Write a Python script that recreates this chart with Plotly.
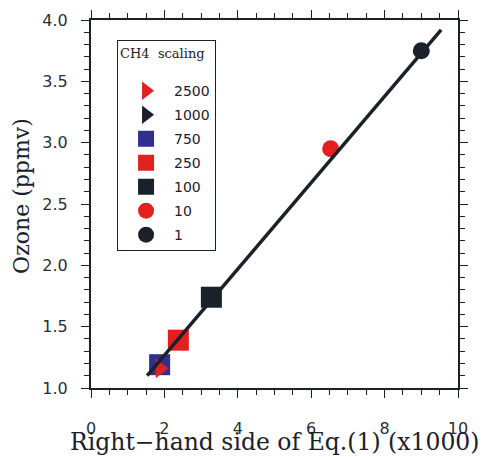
import plotly.graph_objects as go

# ---- data ----
labels = ["2500", "1000", "750", "250", "100", "10", "1"]
x_vals = [1.88, 1.84, 1.87, 2.38, 3.28, 6.53, 9.00]
y_vals = [1.16, 1.19, 1.19, 1.39, 1.74, 2.95, 3.75]
symbols = ["triangle-right", "triangle-right", "square", "square", "square", "circle", "circle"]
colors = ["#e0211d", "#1b2128", "#2e3190", "#e0211d", "#1b2128", "#e0211d", "#1b2128"]
sizes = [17, 17, 21, 21, 21, 17, 17]
draw_order = [6, 5, 4, 3, 1, 2, 0]

fit_x = [1.53, 9.54]
fit_y = [1.10, 3.92]

x_ticks = [0, 2, 4, 6, 8, 10]
y_ticks = [1.0, 1.5, 2.0, 2.5, 3.0, 3.5, 4.0]

x_title = "Right\u2212hand side of Eq.(1) (x1000)"
y_title = "Ozone (ppmv)"
legend_title = "CH4  scaling"

fig = go.Figure()
for i in draw_order:
    fig.add_trace(go.Scatter(
        x=[x_vals[i]], y=[y_vals[i]], mode="markers", name=labels[i],
        legendgroup=labels[i], legendrank=i + 1,
        marker=dict(symbol=symbols[i], color=colors[i], size=sizes[i], line=dict(width=0)),
    ))
fig.add_trace(go.Scatter(x=fit_x, y=fit_y, mode="lines", showlegend=False,
                         line=dict(color="#1b2128", width=3.5)))

axis_common = dict(
    showline=True, linecolor="#1b2128", linewidth=2, mirror="allticks",
    ticks="outside", ticklen=8, tickwidth=1.3, tickcolor="#1b2128",
    showgrid=False, zeroline=False, automargin=False,
    tickfont=dict(family="DejaVu Sans", size=16, color="#2a2f35"),
)
fig.update_xaxes(range=[0, 10], tickvals=x_ticks, ticktext=[str(v) for v in x_ticks],
                 ticklabelstandoff=17,
                 minor=dict(dtick=0.5, ticklen=5, tickcolor="#1b2128", ticks="outside", showgrid=False),
                 **axis_common)
fig.update_yaxes(range=[1.0, 4.0], tickvals=y_ticks, ticktext=[f"{v:.1f}" for v in y_ticks],
                 ticklabelstandoff=10,
                 minor=dict(dtick=0.1, ticklen=5, tickcolor="#1b2128", ticks="outside", showgrid=False),
                 **axis_common)

fig.add_annotation(text=x_title, xref="paper", yref="paper", x=0.5, y=0,
                   xanchor="center", yanchor="middle", yshift=-54, showarrow=False,
                   font=dict(family="DejaVu Serif", size=23.5, color="#1b2128"))
fig.add_annotation(text=y_title, xref="paper", yref="paper", x=0, y=0.522, textangle=-90,
                   xanchor="center", yanchor="middle", xshift=-69, showarrow=False,
                   font=dict(family="DejaVu Serif", size=22, color="#1b2128"))

fig.update_layout(
    width=482, height=449,
    margin=dict(l=83, r=32, t=12, b=69),
    plot_bgcolor="white", paper_bgcolor="white",
    legend=dict(
        x=0.071, y=0.945, xanchor="left", yanchor="top",
        bordercolor="#1b2128", borderwidth=1, bgcolor="white",
        font=dict(family="DejaVu Sans", size=14, color="#1b2128"),
        title=dict(text=legend_title + "<br> ", font=dict(family="DejaVu Serif", size=13, color="#1b2128")),
        traceorder="grouped", tracegroupgap=2.8, itemwidth=46,
    ),
)

fig.write_html("out.html")
